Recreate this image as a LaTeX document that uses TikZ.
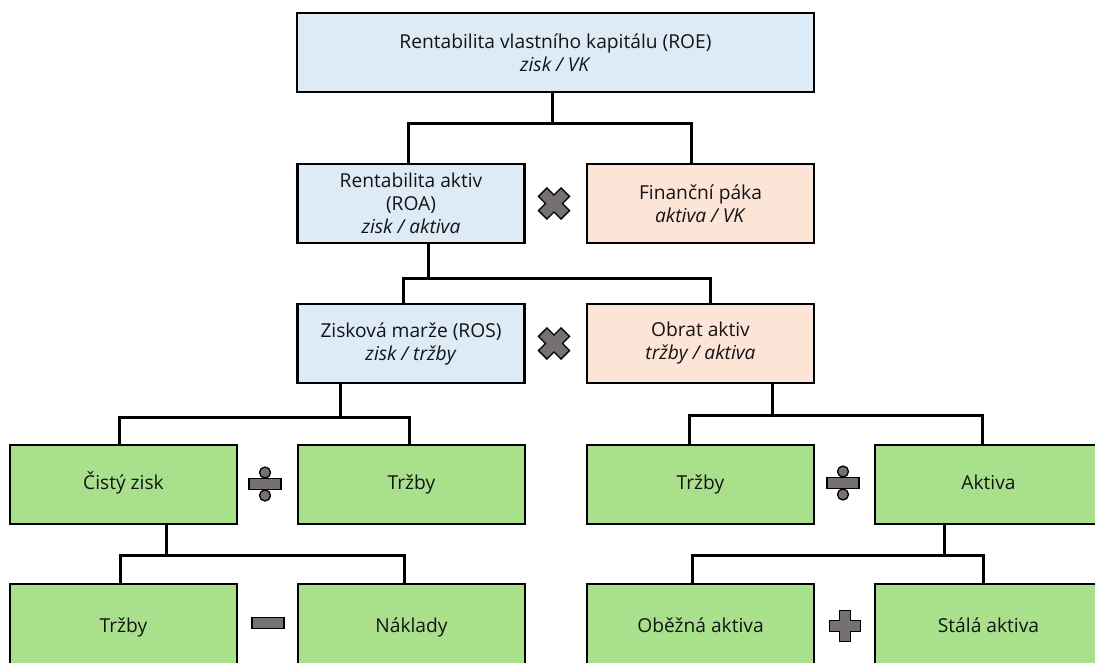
\documentclass[tikz,border=0pt]{standalone}
\usepackage{fontspec}
\setmainfont{Open Sans}
\begin{document}
\begin{tikzpicture}[x=1pt,y=-1pt,
  box/.style={draw=black,line width=2.2pt,minimum width=227pt,minimum height=79pt,inner sep=0pt,align=center,
    font=\fontsize{19.2}{23}\selectfont,text=black!92},
  bluebox/.style={box,fill=boxblue},
  salbox/.style={box,fill=boxsalmon},
  greenbox/.style={box,fill=boxgreen,text height=14pt,text depth=4pt},
  conn/.style={line width=3pt,draw=black},
  sym/.style={fill=symgray,draw=black,line width=1.3pt,line join=miter}]
\definecolor{boxblue}{RGB}{221,235,247}
\definecolor{boxsalmon}{RGB}{252,228,214}
\definecolor{boxgreen}{RGB}{169,224,139}
\definecolor{symgray}{RGB}{118,113,113}
\useasboundingbox (0,0) rectangle (1095,662);

% row 1
\node[bluebox,minimum width=517pt] (roe) at (555.5,52.5) {Rentabilita vlastního kapitálu (ROE)\\ \textit{zisk / VK}};
% row 2
\node[bluebox] (roa) at (411,203.5) {Rentabilita aktiv\\(ROA)\\ \textit{zisk / aktiva}};
\node[salbox] (fp) at (700.5,203.5) {Finanční páka\\ \textit{aktiva / VK}};
% row 3
\node[bluebox] (ros) at (411,343.5) {Zisková marže (ROS)\\ \textit{zisk / tržby}};
\node[salbox] (oa) at (700.5,343.5) {Obrat aktiv\\ \textit{tržby / aktiva}};
% row 4
\node[greenbox] (cz) at (123.5,484.5) {Čistý zisk};
\node[greenbox] (t1) at (411.5,484.5) {Tržby};
\node[greenbox] (t2) at (700.5,484.5) {Tržby};
\node[greenbox] (ak) at (988.5,484.5) {Aktiva};
% row 5 (cut off by the lower edge)
\node[greenbox,minimum height=86pt] (t3) at (123.5,627) {Tržby};
\node[greenbox,minimum height=86pt] (nk) at (411.5,627) {Náklady};
\node[greenbox,minimum height=86pt] (ob) at (700.5,627) {Oběžná aktiva};
\node[greenbox,minimum height=86pt] (st) at (988.5,627) {Stálá aktiva};

% bus levels
\coordinate (b1) at (0,123);
\coordinate (b2) at (0,278);
\coordinate (b3) at (0,417);
\coordinate (b4) at (0,415);
\coordinate (b5) at (0,555);
\coordinate (b6) at (0,555);

% connectors
\draw[conn] ([xshift=-3.5pt]roe.south) -- ([xshift=-3.5pt]roe.south |- b1);
\draw[conn] ([xshift=-3pt]roa.north) |- ([xshift=-9.5pt]fp.north |- b1) -- ([xshift=-9.5pt]fp.north);

\draw[conn] ([xshift=17pt]roa.south) -- ([xshift=17pt]roa.south |- b2);
\draw[conn] ([xshift=-8pt]ros.north) |- ([xshift=9.5pt]oa.north |- b2) -- ([xshift=9.5pt]oa.north);

\draw[conn] ([xshift=-71pt]ros.south) -- ([xshift=-71pt]ros.south |- b3);
\draw[conn] ([xshift=-4.5pt]cz.north) |- ([xshift=-2.5pt]t1.north |- b3) -- ([xshift=-2.5pt]t1.north);

\draw[conn] ([xshift=71.5pt]oa.south) -- ([xshift=71.5pt]oa.south |- b4);
\draw[conn] ([xshift=-11.5pt]t2.north) |- ([xshift=-6.5pt]ak.north |- b4) -- ([xshift=-6.5pt]ak.north);

\draw[conn] ([xshift=42.5pt]cz.south) -- ([xshift=42.5pt]cz.south |- b5);
\draw[conn] ([xshift=-3.5pt]t3.north) |- ([xshift=-7.5pt]nk.north |- b5) -- ([xshift=-7.5pt]nk.north);

\draw[conn] ([xshift=-44.5pt]ak.south) -- ([xshift=-44.5pt]ak.south |- b6);
\draw[conn] ([xshift=-8.5pt]ob.north) |- ([xshift=-5.5pt]st.north |- b6) -- ([xshift=-5.5pt]st.north);

% operator symbols
\foreach \cx/\cy in {554/203.5, 554/343.5}{
  \draw[sym,shift={(\cx,\cy)},rotate=45]
    (-6,-16) -- (6,-16) -- (6,-6) -- (16,-6) -- (16,6) -- (6,6) -- (6,16) -- (-6,16) -- (-6,6) -- (-16,6) -- (-16,-6) -- (-6,-6) -- cycle;
}
\draw[sym,shift={(845,626)}]
    (-5.5,-15.5) -- (5.5,-15.5) -- (5.5,-5.5) -- (15.5,-5.5) -- (15.5,5.5) -- (5.5,5.5) -- (5.5,15.5) -- (-5.5,15.5) -- (-5.5,5.5) -- (-15.5,5.5) -- (-15.5,-5.5) -- (-5.5,-5.5) -- cycle;
\foreach \cx/\cy in {265/484, 843/483}{
  \draw[sym] (\cx-16,\cy-5.5) rectangle (\cx+16,\cy+5.5);
  \draw[sym] (\cx,\cy-11.5) circle (5.5);
  \draw[sym] (\cx,\cy+11.5) circle (5.5);
}
\draw[sym] (252,617.5) rectangle (284,628.5);
\end{tikzpicture}
\end{document}
